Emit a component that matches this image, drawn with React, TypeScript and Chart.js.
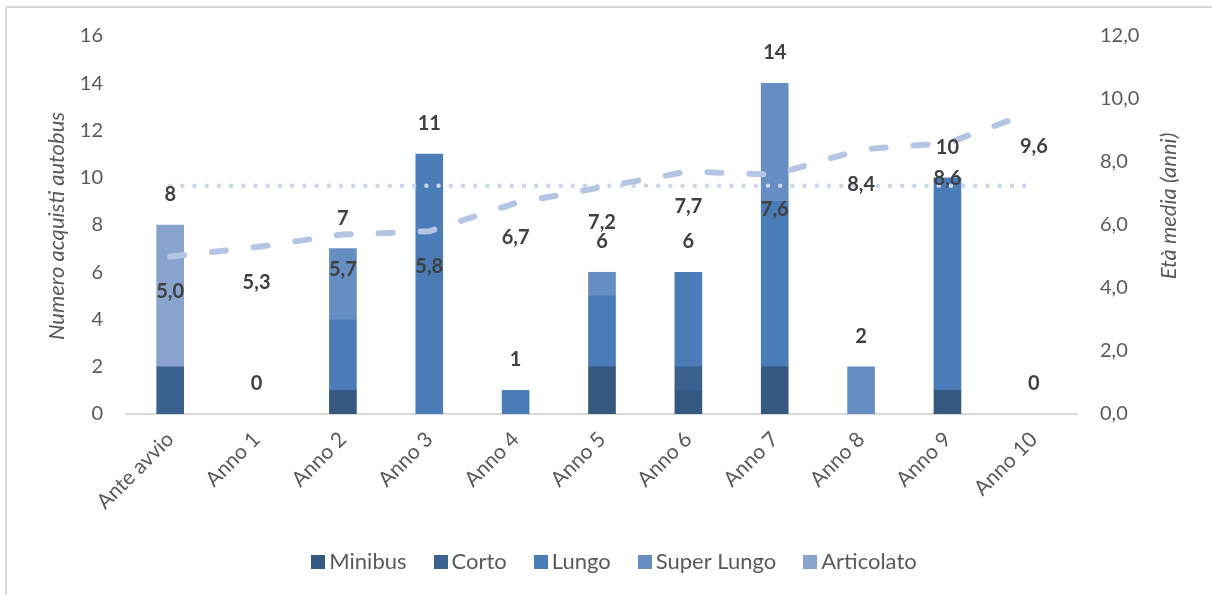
import React, { useEffect, useRef } from "react";
import { Chart, registerables } from "chart.js";

Chart.register(...registerables);

const categories = ["Ante avvio", "Anno 1", "Anno 2", "Anno 3", "Anno 4", "Anno 5", "Anno 6", "Anno 7", "Anno 8", "Anno 9", "Anno 10"];
const minibus = [0, 0, 1, 0, 0, 2, 1, 2, 0, 1, 0];
const corto = [2, 0, 0, 0, 0, 0, 1, 0, 0, 0, 0];
const lungo = [0, 0, 3, 11, 1, 3, 4, 7, 0, 9, 0];
const superLungo = [0, 0, 3, 0, 0, 1, 0, 5, 2, 0, 0];
const articolato = [6, 0, 0, 0, 0, 0, 0, 0, 0, 0, 0];
const etaMedia = [5.0, 5.3, 5.7, 5.8, 6.7, 7.2, 7.7, 7.6, 8.4, 8.6, 9.6];
const etaRiferimento = [7.25, 7.25, 7.25, 7.25, 7.25, 7.25, 7.25, 7.25, 7.25, 7.25, 7.25];

const leftMax = 16;
const rightMax = 12;
const tickStep = 2;

const FONT = "Lato, 'Noto Sans', sans-serif";
const TEXT_DARK = "#404040";
const TEXT_GREY = "#595959";

const barSeries = [
  { label: "Minibus", values: minibus, color: "#34587f" },
  { label: "Corto", values: corto, color: "#3b6191" },
  { label: "Lungo", values: lungo, color: "#4a7cb8" },
  { label: "Super Lungo", values: superLungo, color: "#668ec3" },
  { label: "Articolato", values: articolato, color: "#88a3ce" },
];

const fmt1 = (v: number) => v.toFixed(1).replace(".", ",");

const labelsPlugin = {
  id: "valueLabels",
  afterDatasetsDraw(chart: any) {
    const ctx = chart.ctx as CanvasRenderingContext2D;
    const x = chart.scales.x;
    const y = chart.scales.y;
    const y1 = chart.scales.y1;
    ctx.save();
    ctx.font = `bold 20px ${FONT}`;
    ctx.fillStyle = TEXT_DARK;
    ctx.textAlign = "center";
    ctx.textBaseline = "middle";
    categories.forEach((_, i) => {
      const total = barSeries.reduce((s, d) => s + d.values[i], 0);
      const px = x.getPixelForValue(i);
      ctx.fillText(String(total), px, y.getPixelForValue(total) - 30.5);
      ctx.fillText(fmt1(etaMedia[i]), px, y1.getPixelForValue(etaMedia[i]) + 35);
    });
    ctx.font = `italic 22px ${FONT}`;
    ctx.fillStyle = TEXT_GREY;
    ctx.save();
    ctx.translate(57, 226);
    ctx.rotate(-Math.PI / 2);
    ctx.fillText("Numero acquisti autobus", 0, 0);
    ctx.restore();
    ctx.save();
    ctx.translate(1169, 206);
    ctx.rotate(-Math.PI / 2);
    ctx.fillText("Età media (anni)", 0, 0);
    ctx.restore();
    ctx.restore();
  },
};

const legendPlugin = {
  id: "bottomLegend",
  afterDraw(chart: any) {
    const ctx = chart.ctx as CanvasRenderingContext2D;
    const items = chart.data.datasets.filter((d: any) => d.type === "bar");
    const box = 14;
    const gapBoxText = 4;
    const gapItems = 27;
    const centerX = 614;
    const centerY = 562;
    ctx.save();
    ctx.font = `22px ${FONT}`;
    ctx.textAlign = "left";
    ctx.textBaseline = "middle";
    const widths = items.map((d: any) => ctx.measureText(d.label).width);
    const total =
      widths.reduce((s: number, w: number) => s + box + gapBoxText + w, 0) + gapItems * (items.length - 1);
    let cx = centerX - total / 2;
    items.forEach((d: any, i: number) => {
      ctx.fillStyle = d.backgroundColor;
      ctx.fillRect(Math.round(cx), Math.round(centerY - box / 2), box, box);
      cx += box + gapBoxText;
      ctx.fillStyle = TEXT_GREY;
      ctx.fillText(d.label, cx, centerY);
      cx += widths[i] + gapItems;
    });
    ctx.restore();
  },
};

export default function App() {
  const ref = useRef<HTMLCanvasElement>(null);

  useEffect(() => {
    const datasets: any[] = barSeries.map((s) => ({
      type: "bar",
      label: s.label,
      data: s.values.map((v) => (v === 0 ? null : v)),
      backgroundColor: s.color,
      borderWidth: 0,
      barThickness: 27,
      yAxisID: "y",
      stack: "acquisti",
    }));
    datasets.push({
      type: "line",
      label: "Età media",
      data: etaMedia,
      yAxisID: "y1",
      borderColor: "#b4c5e3",
      borderWidth: 6,
      borderDash: [14, 28],
      borderCapStyle: "round",
      pointRadius: 0,
      fill: false,
      tension: 0,
      order: -1,
    });
    datasets.push({
      type: "line",
      label: "Riferimento",
      data: etaRiferimento,
      yAxisID: "y1",
      borderColor: "#c9d5ea",
      borderWidth: 4.5,
      borderDash: [0, 12.2],
      borderCapStyle: "round",
      pointRadius: 0,
      fill: false,
      tension: 0,
      order: -1,
    });

    const chart = new Chart(ref.current as HTMLCanvasElement, {
      type: "bar",
      data: { labels: categories, datasets },
      options: {
        responsive: false,
        devicePixelRatio: 1,
        animation: false,
        layout: { padding: { left: 16, right: 0, top: 34, bottom: 64 } },
        plugins: {
          tooltip: { enabled: false },
          legend: { display: false },
        },
        scales: {
          x: {
            stacked: true,
            grid: { display: false, drawTicks: false },
            border: { display: true, color: "#d9d9d9", width: 2 },
            ticks: {
              color: TEXT_GREY,
              font: { family: FONT, size: 21 },
              minRotation: 45,
              maxRotation: 45,
              autoSkip: false,
              padding: 13,
            },
            afterFit: (scale: any) => {
              scale.height = 117;
            },
          },
          y: {
            stacked: true,
            position: "left",
            min: 0,
            max: leftMax,
            grid: { display: false, drawTicks: false },
            border: { display: false },
            ticks: {
              stepSize: tickStep,
              color: TEXT_GREY,
              font: { family: FONT, size: 20 },
              padding: 24,
            },
            afterFit: (scale: any) => {
              scale.width = 111;
            },
          },
          y1: {
            position: "right",
            min: 0,
            max: rightMax,
            grid: { display: false, drawTicks: false },
            border: { display: false },
            ticks: {
              stepSize: tickStep,
              color: TEXT_GREY,
              font: { family: FONT, size: 20 },
              padding: 23,
              callback: (v: any) => fmt1(Number(v)),
            },
            afterFit: (scale: any) => {
              scale.width = 135;
            },
          },
        },
      },
      plugins: [labelsPlugin, legendPlugin],
    } as any);
    return () => chart.destroy();
  }, []);

  return (
    <div style={{ position: "absolute", left: 0, top: 0, width: 1212, height: 595, background: "#fff", overflow: "hidden" }}>
      <canvas ref={ref} width={1212} height={595} style={{ display: "block" }} />
      <div
        style={{
          position: "absolute",
          left: 5,
          top: 6,
          right: 0,
          bottom: 0,
          borderLeft: "2px solid #d9d9d9",
          borderTop: "2px solid #d9d9d9",
          pointerEvents: "none",
        }}
      />
    </div>
  );
}
